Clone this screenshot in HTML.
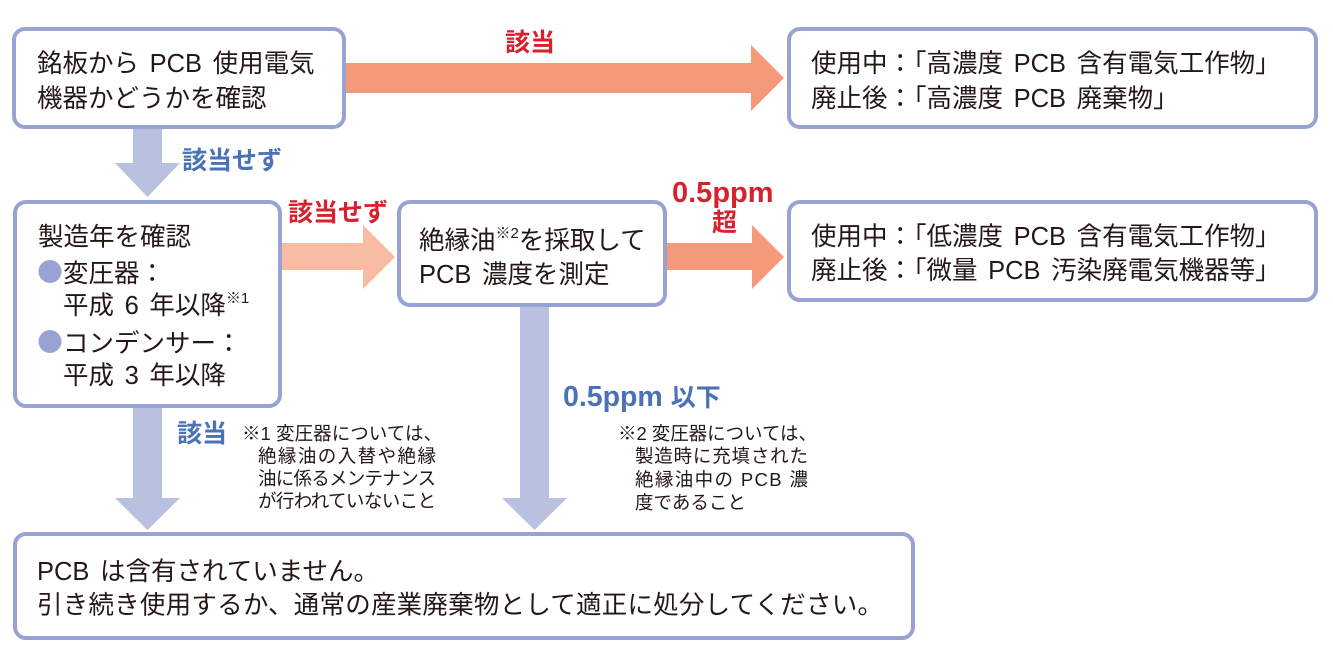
<!DOCTYPE html>
<html lang="ja">
<head>
<meta charset="utf-8">
<style>
  html,body{margin:0;padding:0;background:#fff;}
  svg{display:block;}
  text{font-family:"Liberation Sans","Noto Sans CJK JP",sans-serif;}
  .t{font-size:25.5px;fill:#231815;word-spacing:3.5px;}
  .n{font-size:18.5px;fill:#231815;}
  .r{font-weight:bold;fill:#d6222e;}
  .b{font-weight:bold;fill:#4a72b7;}
</style>
</head>
<body>
<svg width="1333" height="651" viewBox="0 0 1333 651" xmlns="http://www.w3.org/2000/svg">
  <rect width="1333" height="651" fill="#fff"/>

  <!-- arrows -->
  <polygon points="344,63 751,63 751,45 784,78 751,111 751,93 344,93" fill="#f49a7b"/>
  <polygon points="133,127 162,127 162,163 180,163 147.5,197 115,163 133,163" fill="#b9c0e0"/>
  <polygon points="280,243 363,243 363,225 395,257 363,289 363,270 280,270" fill="#f8bca3"/>
  <polygon points="665,243 752,243 752,225 784,257 752,289 752,270 665,270" fill="#f49a7b"/>
  <polygon points="133,406 162,406 162,498 180,498 147.5,530 115,498 133,498" fill="#b9c0e0"/>
  <polygon points="520,305 549,305 549,498 567,498 534.5,530 502,498 520,498" fill="#b9c0e0"/>

  <!-- boxes -->
  <g fill="#fff" stroke="#98a3d4" stroke-width="4">
    <rect x="14" y="29" width="330" height="98" rx="11"/>
    <rect x="789" y="29" width="527" height="98" rx="11"/>
    <rect x="15" y="202" width="265" height="204" rx="11"/>
    <rect x="399" y="202" width="266" height="103" rx="11"/>
    <rect x="789" y="202" width="527" height="98" rx="11"/>
    <rect x="15" y="534" width="898" height="104" rx="11"/>
  </g>

  <!-- box1 text -->
  <text class="t" x="37" y="72">銘板から PCB 使用電気</text>
  <text class="t" x="37" y="107">機器かどうかを確認</text>

  <!-- top right box -->
  <text class="t" y="72"><tspan x="811">使用中：</tspan><tspan x="901">「高濃度 PCB 含有電気工作物」</tspan></text>
  <text class="t" y="107"><tspan x="811">廃止後：</tspan><tspan x="901">「高濃度 PCB 廃棄物」</tspan></text>

  <!-- box4 -->
  <text class="t" y="245"><tspan x="811">使用中：</tspan><tspan x="901">「低濃度 PCB 含有電気工作物」</tspan></text>
  <text class="t" y="279"><tspan x="811">廃止後：</tspan><tspan x="901">「微量 PCB 汚染廃電気機器等」</tspan></text>

  <!-- box2 -->
  <text class="t" x="38" y="245.5">製造年を確認</text>
  <circle cx="50" cy="271.5" r="11.5" fill="#98a3d4"/>
  <text class="t" x="63" y="282">変圧器：</text>
  <text class="t" x="63" y="314">平成 6 年以降<tspan font-size="15" dy="-11">※1</tspan></text>
  <circle cx="50" cy="341.5" r="11.5" fill="#98a3d4"/>
  <text class="t" x="63" y="352">コンデンサー：</text>
  <text class="t" x="63" y="384">平成 3 年以降</text>

  <!-- box3 -->
  <text class="t" x="419" y="249">絶縁油<tspan font-size="15" dy="-11">※2</tspan><tspan dy="11">を採取して</tspan></text>
  <text class="t" x="419" y="283">PCB 濃度を測定</text>

  <!-- bottom box -->
  <text class="t" x="37" y="580">PCB は含有されていません。</text>
  <text class="t" x="37" y="613.5" textLength="846">引き続き使用するか、通常の産業廃棄物として適正に処分してください。</text>

  <!-- labels -->
  <text class="r" x="505" y="51" font-size="25">該当</text>
  <text class="b" x="182" y="169" font-size="25">該当せず</text>
  <text class="r" x="288" y="221" font-size="25">該当せず</text>
  <text class="r" x="672" y="202" font-size="29">0.5ppm</text>
  <text class="r" x="712" y="231" font-size="25">超</text>
  <text class="b" x="177" y="442" font-size="25">該当</text>
  <text class="b" x="563" y="406" font-size="28.5">0.5ppm <tspan font-size="25">以下</tspan></text>

  <!-- note 1 -->
  <text class="n" x="242" y="440" textLength="200">※1 変圧器については、</text>
  <text class="n" x="258" y="462.5" textLength="178">絶縁油の入替や絶縁</text>
  <text class="n" x="258" y="485" textLength="178">油に係るメンテナンス</text>
  <text class="n" x="258" y="507.5" textLength="178">が行われていないこと</text>

  <!-- note 2 -->
  <text class="n" x="618" y="440" textLength="199">※2 変圧器については、</text>
  <text class="n" x="635" y="462.5" textLength="173">製造時に充填された</text>
  <text class="n" x="635" y="486" textLength="173">絶縁油中の PCB 濃</text>
  <text class="n" x="635" y="509" font-size="18">度であること</text>
</svg>
</body>
</html>
